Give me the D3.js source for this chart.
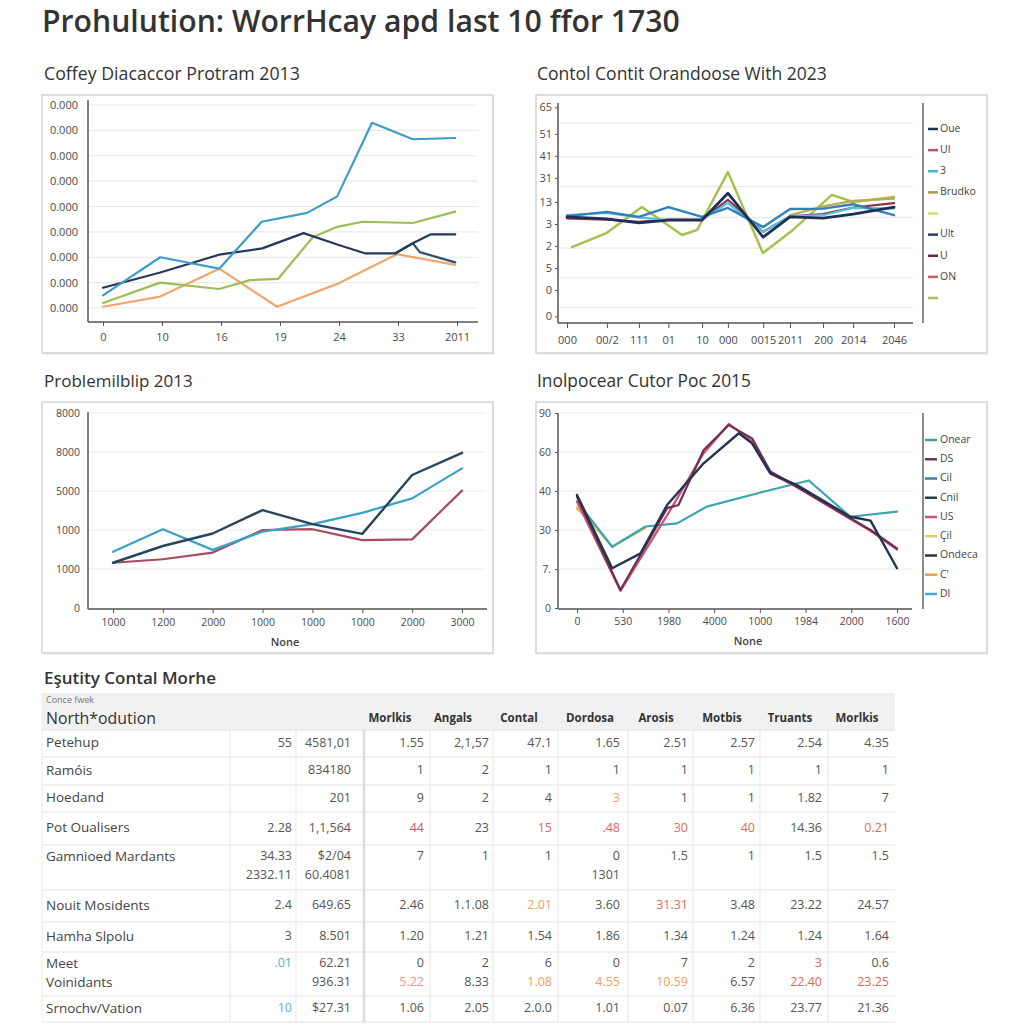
<!DOCTYPE html>
<html><head><meta charset="utf-8">
<script src="https://cdn.jsdelivr.net/npm/d3@7"></script>
<style>
body{margin:0;background:#fff;}
svg text{font-family:"Open Sans","Noto Sans",Arial,sans-serif;}
</style></head><body>
<svg id="c" width="1024" height="1024"></svg>
<script>
// ================= DATA =================
const mainTitle = "Prohulution: WorrHcay apd last 10 ffor 1730";

// Panel 1
const p1Title = "Coffey Diacaccor Protram 2013";
const p1XLabels = ["0","10","16","19","24","33","2011"];
const p1YLabels = ["0.000","0.000","0.000","0.000","0.000","0.000","0.000","0.000","0.000"];
const p1Blue   = [[0,0.5],[0.97,2.0],[1.97,1.55],[2.69,3.4],[3.46,3.75],[3.97,4.4],[4.56,7.3],[5.25,6.65],[5.97,6.7]];
const p1Navy   = [[0,0.8],[0.97,1.4],[1.97,2.1],[2.7,2.35],[3.4,2.95],[3.97,2.5],[4.45,2.15],[4.95,2.15],[5.25,2.55],[5.55,2.9],[5.97,2.9]];
const p1Dark   = [[4.95,2.15],[5.25,2.55],[5.37,2.2],[5.97,1.8]];
const p1Green  = [[0,0.2],[0.97,1.0],[1.97,0.75],[2.49,1.1],[2.97,1.15],[3.56,2.8],[3.97,3.2],[4.4,3.4],[5.25,3.35],[5.97,3.8]];
const p1Orange = [[0,0.05],[0.97,0.45],[1.97,1.55],[2.95,0.05],[3.97,0.95],[4.98,2.12],[5.97,1.7]];

// Panel 2
const p2Title = "Contol Contit Orandoose With 2023";
const p2XTicks = [0,12.2,22,31,41.3,49.2,60,68.2,78.3,87.5,100];
const p2XLabels = ["000","00/2","111","01","10","000","0015","2011","200","2014","2046"];
const p2YTicks = [3,15,25,35,45,55,66,76,86,98];
const p2YLabels = ["0","0","5","2","3","13","31","41","51","65"];
const p2Grid = [7,20.5,34,48,62,75.5,91];
const p2Navy   = [[0,48.2],[12.2,47.3],[22,45.5],[31,46.8],[41.3,46.8],[49.2,59],[60,39],[68.2,48.2],[78.3,47.7],[87.5,49.5],[100,52.7]];
const p2Blue   = [[0,48.6],[12.2,50.5],[22,48.2],[31,52.7],[41.3,48.2],[49.2,52.3],[60,43.6],[68.2,51.8],[78.3,52],[87.5,54],[100,49]];
const p2Cyan   = [[0,49],[12.2,50],[22,48],[31,46.8],[41.3,47],[49.2,54.5],[60,41.4],[68.2,48.5],[78.3,49],[87.5,52.3],[100,52]];
const p2Maroon = [[0,47.5],[12.2,47],[22,46],[31,47],[41.3,47],[49.2,56],[60,41.5],[68.2,48.5],[78.3,49.5],[87.5,52.5],[100,54.5]];
const p2Olive  = [[68.2,49],[78.3,53],[87.5,55.5],[100,56.5]];
const p2Green  = [[1.5,34.5],[12.2,41],[22.9,52.7],[35.2,40],[39.8,42.3],[49.2,68.6],[59.9,31.8],[69.1,42.3],[81,58.2],[87.5,55],[100,57.3]];
const p2Legend = ["Oue","Ul","3","Brudko","","Ult","U","ON",""];

// Panel 3
const p3Title = "Problemilblip 2013";
const p3XLabels = ["1000","1200","2000","1000","1000","1000","2000","3000"];
const p3YLabels = ["0","1000","1000","5000","8000","8000"];
const p3XTitle = "None";
const p3Teal = [1.44,2.02,1.49,1.96,2.15,2.44,2.81,3.58];
const p3Navy = [1.16,1.59,1.91,2.51,2.15,1.90,3.41,3.98];
const p3Red  = [1.16,1.25,1.42,2.0,2.02,1.74,1.76,3.01];

// Panel 4
const p4Title = "Inolpocear Cutor Poc 2015";
const p4XLabels = ["0","530","1980","4000","1000","1984","2000","1600"];
const p4YLabels = ["0","7.","30","40","60","90"];
const p4XTitle = "None";
const p4Teal   = [[0,2.73],[0.77,1.57],[1.5,2.09],[2.19,2.17],[2.84,2.6],[4.08,2.98],[5.07,3.27],[5.98,2.34],[7,2.47]];
const p4Navy   = [[0,2.9],[0.77,1.02],[1.39,1.40],[1.97,2.64],[2.77,3.71],[3.54,4.48],[3.83,4.22],[4.23,3.45],[4.81,3.15],[5.98,2.34],[6.42,2.24],[7,1.02]];
const p4Maroon = [[0,2.85],[0.95,0.46],[1.97,2.56],[2.22,2.64],[2.77,4.05],[3.32,4.69],[3.83,4.35],[4.23,3.5],[4.81,3.11],[5.98,2.3],[6.42,2.0],[7,1.53]];
const p4Pink   = [[0,2.73],[0.95,0.44],[2.04,2.51],[2.77,3.97],[3.32,4.72],[3.79,4.31],[4.23,3.45],[4.81,3.1],[5.98,2.28],[6.42,1.98],[7,1.5]];
const p4Yellow = [[0,2.6],[0.77,1.57],[1.5,2.05]];
const p4Orange = [[0,2.55],[0.4,2.1]];
const p4Legend = ["Onear","DS","Cil","Cnil","US","Çil","Ondeca","C'","Dl"];

// Table
const tableTitle = "Eşutity Contal Morhe";
const tableSubhead = "Conce fwek";
const tableCorner = "North*odution";
const tableCols = ["Morlkis","Angals","Contal","Dordosa","Arosis","Motbis","Truants","Morlkis"];
const rowLabels = ["Petehup","Ramóis","Hoedand","Pot Oualisers","Gamnioed Mardants","Nouit Mosidents","Hamha Slpolu","Meet\nVoinidants","Srnochv/Vation"];
const colA = ["55","","","2.28","34.33\n2332.11","2.4","3",".01","10"];
const colB = ["4581,01","834180","201","1,1,564","$2/04\n60.4081","649.65","8.501","62.21\n936.31","$27.31"];
const tableValues = [
  ["1.55","2,1,57","47.1","1.65","2.51","2.57","2.54","4.35"],
  ["1","2","1","1","1","1","1","1"],
  ["9","2","4","3","1","1","1.82","7"],
  ["44","23","15",".48","30","40","14.36","0.21"],
  ["7","1","1","0\n1301","1.5","1","1.5","1.5"],
  ["2.46","1.1.08","2.01","3.60","31.31","3.48","23.22","24.57"],
  ["1.20","1.21","1.54","1.86","1.34","1.24","1.24","1.64"],
  ["0\n5.22","2\n8.33","6\n1.08","0\n4.55","7\n10.59","2\n6.57","3\n22.40","0.6\n23.25"],
  ["1.06","2.05","2.0.0","1.01","0.07","6.36","23.77","21.36"]
];

// ================= STYLE / LAYOUT =================
const RED="#dd6a5c", ORG="#eea062", PNK="#c65a70", BLU="#5ab0d2";
const cellColor = {"3-2-0":PNK,"3-4-0":RED,"3-5-0":RED,"3-6-0":RED,"3-7-0":RED,"3-9-0":RED,"2-5-0":ORG,
  "5-4-0":ORG,"5-6-0":RED,"7-8-0":RED,"7-2-1":"#e8978a","7-4-1":ORG,"7-5-1":ORG,"7-6-1":ORG,"7-8-1":RED,"7-9-1":RED,
  "7-0-0":BLU,"8-0-0":BLU};

const svg=d3.select("#c");
svg.append("rect").attr("width",1024).attr("height",1024).attr("fill","#fff");

function fitText(sel,w){const l=sel.node().getComputedTextLength();if(l>0)sel.attr("font-size",parseFloat(sel.attr("font-size"))*w/l);return sel;}
function txt(g,x,y,s,fs,fill,anchor,weight){return g.append("text").attr("x",x).attr("y",y).attr("font-size",fs)
  .attr("fill",fill||"#444").attr("text-anchor",anchor||"start").attr("font-weight",weight||400)
  .attr("dominant-baseline","middle").text(s);}
function frame(x,y,w,h){
  svg.append("rect").attr("x",x+1).attr("y",y+1.5).attr("width",w).attr("height",h).attr("fill","#e9e9e9");
  svg.append("rect").attr("x",x).attr("y",y).attr("width",w).attr("height",h).attr("fill","#fff").attr("stroke","#d3d3d3").attr("stroke-width",1.5);
}
function styleAxis(ag,fs){ag.select(".domain").remove();ag.selectAll("text").attr("font-size",fs).attr("fill","#4a4a4a")
  .attr("font-family",'"Open Sans","Noto Sans",Arial,sans-serif');ag.selectAll(".tick line").attr("stroke","#555");return ag;}
function hline(g,x1,x2,y,c,w){g.append("line").attr("x1",x1).attr("x2",x2).attr("y1",y).attr("y2",y).attr("stroke",c).attr("stroke-width",w||1);}
function vline(g,x,y1,y2,c,w){g.append("line").attr("x1",x).attr("x2",x).attr("y1",y1).attr("y2",y2).attr("stroke",c).attr("stroke-width",w||1);}
function drawLine(g,data,x,y,color,w){
  const gen=d3.line().x(d=>x(d[0])).y(d=>y(d[1]));
  g.append("path").datum(data).attr("d",gen).attr("fill","none").attr("stroke",color)
   .attr("stroke-width",w||2.2).attr("stroke-linejoin","round").attr("stroke-linecap","round");
}
const idx = arr => arr.map((v,i)=>[i,v]);

// main title (alphabetic baseline)
fitText(svg.append("text").attr("x",42).attr("y",32).attr("font-size",27).attr("fill","#333")
  .attr("font-weight",600).text(mainTitle),638);

// ---------- Panel 1 ----------
{
  frame(42,95,451,258);
  fitText(txt(svg,44,75,p1Title,16,"#333","start",500),256);
  const g=svg.append("g");
  const x=d3.scaleLinear().domain([0,p1XLabels.length-1]).range([103,457]);
  const y=d3.scaleLinear().domain([0,p1YLabels.length-1]).range([308,105]);
  d3.range(p1YLabels.length).forEach(i=>hline(g,89,478,y(i),"#e9e9e9",1.2));
  styleAxis(g.append("g").attr("transform","translate(88,0)")
    .call(d3.axisLeft(y).tickValues(d3.range(p1YLabels.length)).tickFormat(i=>p1YLabels[i]).tickSize(0).tickPadding(10)),11);
  styleAxis(g.append("g").attr("transform","translate(0,322)")
    .call(d3.axisBottom(x).tickValues(d3.range(p1XLabels.length)).tickFormat(i=>p1XLabels[i]).tickSize(4).tickPadding(7)),11);
  vline(g,88,100,322,"#555",1.5); hline(g,88,478,322,"#555",1.5);
  drawLine(g,p1Orange,x,y,"#f2a66e");
  drawLine(g,p1Green,x,y,"#9dbd55");
  drawLine(g,p1Dark,x,y,"#2e4f6e");
  drawLine(g,p1Navy,x,y,"#26395a");
  drawLine(g,p1Blue,x,y,"#3d9cc9");
}

// ---------- Panel 2 ----------
{
  frame(536,95,451,258);
  fitText(txt(svg,537,75,p2Title,16,"#333","start",500),290);
  const g=svg.append("g");
  const x=d3.scaleLinear().domain([0,100]).range([567,894]);
  const y=d3.scaleLinear().domain([0,100]).range([323,103]);
  p2Grid.forEach(v=>hline(g,559,913,y(v),"#e9e9e9",1.2));
  styleAxis(g.append("g").attr("transform","translate(558,0)")
    .call(d3.axisLeft(y).tickValues(p2YTicks).tickFormat((d,i)=>p2YLabels[i]).tickSize(3).tickPadding(3)),11);
  styleAxis(g.append("g").attr("transform","translate(0,323)")
    .call(d3.axisBottom(x).tickValues(p2XTicks).tickFormat((d,i)=>p2XLabels[i]).tickSize(5).tickPadding(8)),11);
  vline(g,558,103,323,"#555",1.5); hline(g,558,913,323,"#555",1.5);
  vline(g,923,103,323,"#666",1.5);
  drawLine(g,p2Green,x,y,"#a3c24a",2.4);
  drawLine(g,p2Olive,x,y,"#c0a850");
  drawLine(g,p2Maroon,x,y,"#8a3050");
  drawLine(g,p2Cyan,x,y,"#55c3da");
  drawLine(g,p2Blue,x,y,"#2f82b8",2.4);
  drawLine(g,p2Navy,x,y,"#1f2f55",2.8);
  const cols=["#1f2d4d","#c0506a","#40b8c8","#a8a050","#d0e070","#2a4060","#6a2a4a","#c85a6a","#a8c060"];
  const ly=d3.scalePoint().domain(d3.range(p2Legend.length)).range([129,298]);
  p2Legend.forEach((s,i)=>{hline(g,928,938,ly(i),cols[i],2.5); txt(g,940,ly(i),s,10.5,"#444");});
}

// ---------- Panel 3 ----------
{
  frame(42,402,451,251);
  fitText(txt(svg,44,382,p3Title,16,"#333","start",500),149);
  const g=svg.append("g");
  const x=d3.scaleLinear().domain([0,p3XLabels.length-1]).range([113,462]);
  const y=d3.scaleLinear().domain([0,p3YLabels.length-1]).range([608,413]);
  d3.range(1,p3YLabels.length).forEach(i=>hline(g,89,486,y(i),"#e9e9e9",1.2));
  styleAxis(g.append("g").attr("transform","translate(88,0)")
    .call(d3.axisLeft(y).tickValues(d3.range(p3YLabels.length)).tickFormat(i=>p3YLabels[i]).tickSize(0).tickPadding(8)),10.5);
  styleAxis(g.append("g").attr("transform","translate(0,609)")
    .call(d3.axisBottom(x).tickValues(d3.range(p3XLabels.length)).tickFormat(i=>p3XLabels[i]).tickSize(4).tickPadding(6)),10.5);
  vline(g,88,412,609,"#555",1.5); hline(g,88,487,609,"#555",1.5);
  txt(g,285,643,p3XTitle,11,"#444","middle",600);
  drawLine(g,idx(p3Red),x,y,"#a84a5e");
  drawLine(g,idx(p3Teal),x,y,"#3aa2c4");
  drawLine(g,idx(p3Navy),x,y,"#27465e",2.4);
}

// ---------- Panel 4 ----------
{
  frame(536,402,451,251);
  fitText(txt(svg,537,382,p4Title,16,"#333","start",500),214);
  const g=svg.append("g");
  const x=d3.scaleLinear().domain([0,p4XLabels.length-1]).range([577,897]);
  const y=d3.scaleLinear().domain([0,p4YLabels.length-1]).range([608,413]);
  d3.range(1,p4YLabels.length).forEach(i=>hline(g,559,913,y(i),"#e9e9e9",1.2));
  styleAxis(g.append("g").attr("transform","translate(558,0)")
    .call(d3.axisLeft(y).tickValues(d3.range(p4YLabels.length)).tickFormat(i=>p4YLabels[i]).tickSize(3).tickPadding(4)),10.5);
  styleAxis(g.append("g").attr("transform","translate(0,609)")
    .call(d3.axisBottom(x).tickValues(d3.range(p4XLabels.length)).tickFormat(i=>p4XLabels[i]).tickSize(4).tickPadding(5)),10.5);
  vline(g,558,413,609,"#555",1.5); hline(g,558,912,609,"#555",1.5);
  vline(g,923,413,609,"#666",1.5);
  txt(g,748,642,p4XTitle,11,"#444","middle",600);
  drawLine(g,p4Orange,x,y,"#f0a04a");
  drawLine(g,p4Yellow,x,y,"#d6d070");
  drawLine(g,p4Teal,x,y,"#3fa3b0");
  drawLine(g,p4Pink,x,y,"#cf4f78");
  drawLine(g,p4Maroon,x,y,"#6e3050");
  drawLine(g,p4Navy,x,y,"#233450",2.4);
  const cols=["#4aa0a0","#5a4050","#3a80a8","#2a3a50","#d05070","#d8d070","#303040","#f0a040","#4aa8d8"];
  const ly=d3.scalePoint().domain(d3.range(p4Legend.length)).range([440,594]);
  p4Legend.forEach((s,i)=>{hline(g,925,937,ly(i),cols[i],2.5); txt(g,940,ly(i),s,10.5,"#444");});
}

// ---------- Table ----------
{
  const g=svg.append("g");
  fitText(txt(g,44,679,tableTitle,16,"#333","start",600),172);
  const L=42,R=895,headTop=693,headBot=730;
  g.append("rect").attr("x",L).attr("y",headTop).attr("width",R-L).attr("height",headBot-headTop).attr("fill","#f1f1f1");
  txt(g,46,701,tableSubhead,9,"#777");
  fitText(txt(g,46,720,tableCorner,14,"#333"),110);
  const colSep=[230,296,364,430,493,558,628,693,760,828];
  const colRight=[292,351,424,489,552,620,688,755,822,889];
  const colHead=[390,453,519,590,656,722,790,857];
  tableCols.forEach((s,i)=>txt(g,colHead[i],719,s,11.5,"#333","middle",700));
  const rowH=[27,28,27,33,45,32,30,44,26];
  const tops=[headBot]; rowH.forEach((h,i)=>tops.push(tops[i]+h));
  tops.forEach(t=>hline(g,L,R,t,"#e4e4e4",1.2));
  colSep.forEach((c,i)=>vline(g,c,headBot,tops[tops.length-1],i==2?"#dcdcdc":"#ebebeb",i==2?2.5:1.2));
  vline(g,L,headTop,tops[tops.length-1],"#ececec",1);
  function cell(r,c,s,x,anchor,fs,base){
    const lines=s.split("\n");const h=rowH[r];const t=tops[r];
    lines.forEach((ln,k)=>{
      const yy = lines.length>1 ? t+12+k*19 : (base? t+12 : t+h/2);
      const col = cellColor[r+"-"+c+"-"+k] || (c<0?"#444":"#555");
      txt(g,x,yy,ln,fs,col,anchor);
    });
  }
  const twoLine = r => [colA[r],colB[r]].concat(tableValues[r]).some(v=>v.includes("\n")) || rowLabels[r].includes("\n");
  rowLabels.forEach((s,r)=>{
    const base=twoLine(r);
    cell(r,-1,s,46,"start",13.5,base);
    cell(r,0,colA[r],colRight[0],"end",12.5,base);
    cell(r,1,colB[r],colRight[1],"end",12.5,base);
    tableValues[r].forEach((v,j)=>cell(r,j+2,v,colRight[j+2],"end",12.5,base));
  });
}
</script>
</body></html>
